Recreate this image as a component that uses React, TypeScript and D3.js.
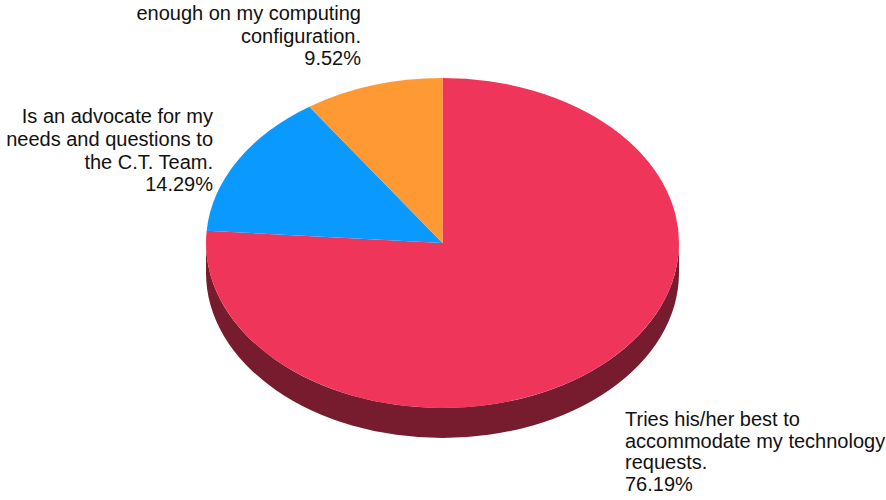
import React from "react";
import * as d3 from "d3";

const categories = [
  "Tries his/her best to accommodate my technology requests.",
  "Is an advocate for my needs and questions to the C.T. Team.",
  "enough on my computing configuration.",
];
const values = [76.19, 14.29, 9.52];
const colors = ["#EF3559", "#0A99FF", "#FF9933"];
const sideColor = "#771C2E";

const labelLines = [
  ["Tries his/her best to", "accommodate my technology", "requests.", "76.19%"],
  ["Is an advocate for my", "needs and questions to", "the C.T. Team.", "14.29%"],
  ["enough on my computing", "configuration.", "9.52%"],
];

const W = 886;
const H = 500;
const cx = 442.5;
const cy = 243;
const rx = 236.5;
const ry = 165;
const depth = 30;

export default function App() {
  const pie = d3
    .pie<number>()
    .sort(null)
    .value((d) => d)
    .startAngle(0)
    .endAngle(2 * Math.PI);
  const arcs = pie(values);
  const arcGen = d3.arc<d3.PieArcDatum<number>>().innerRadius(0).outerRadius(rx);
  const sy = ry / rx;

  const sideD =
    `M${cx - rx},${cy} L${cx - rx},${cy + depth} ` +
    `A${rx},${ry} 0 0 0 ${cx + rx},${cy + depth} ` +
    `L${cx + rx},${cy} ` +
    `A${rx},${ry} 0 0 1 ${cx - rx},${cy} Z`;

  const font = "'Liberation Sans', Arial, sans-serif";
  const fs = 20;

  const labelPos = [
    { x: 625, y: 426, anchor: "start", lh: 21.7 },
    { x: 213, y: 123, anchor: "end", lh: 22.8 },
    { x: 361, y: 20, anchor: "end", lh: 22.5 },
  ];

  return (
    <svg width={W} height={H} style={{ position: "absolute", left: 0, top: 0 }}>
      <rect x={0} y={0} width={W} height={H} fill="#fff" />
      <path d={sideD} fill={sideColor} />
      <g transform={`translate(${cx},${cy}) scale(1,${sy})`}>
        {arcs.map((a, i) => (
          <path key={categories[i]} d={arcGen(a) || ""} fill={colors[i]} />
        ))}
      </g>
      {labelLines.map((lines, i) => (
        <text
          key={i}
          x={labelPos[i].x}
          y={labelPos[i].y}
          textAnchor={labelPos[i].anchor as any}
          fontFamily={font}
          fontSize={fs}
          fill="#111"
        >
          {lines.map((l, j) => (
            <tspan key={j} x={labelPos[i].x} y={labelPos[i].y + j * labelPos[i].lh}>
              {l}
            </tspan>
          ))}
        </text>
      ))}
    </svg>
  );
}
